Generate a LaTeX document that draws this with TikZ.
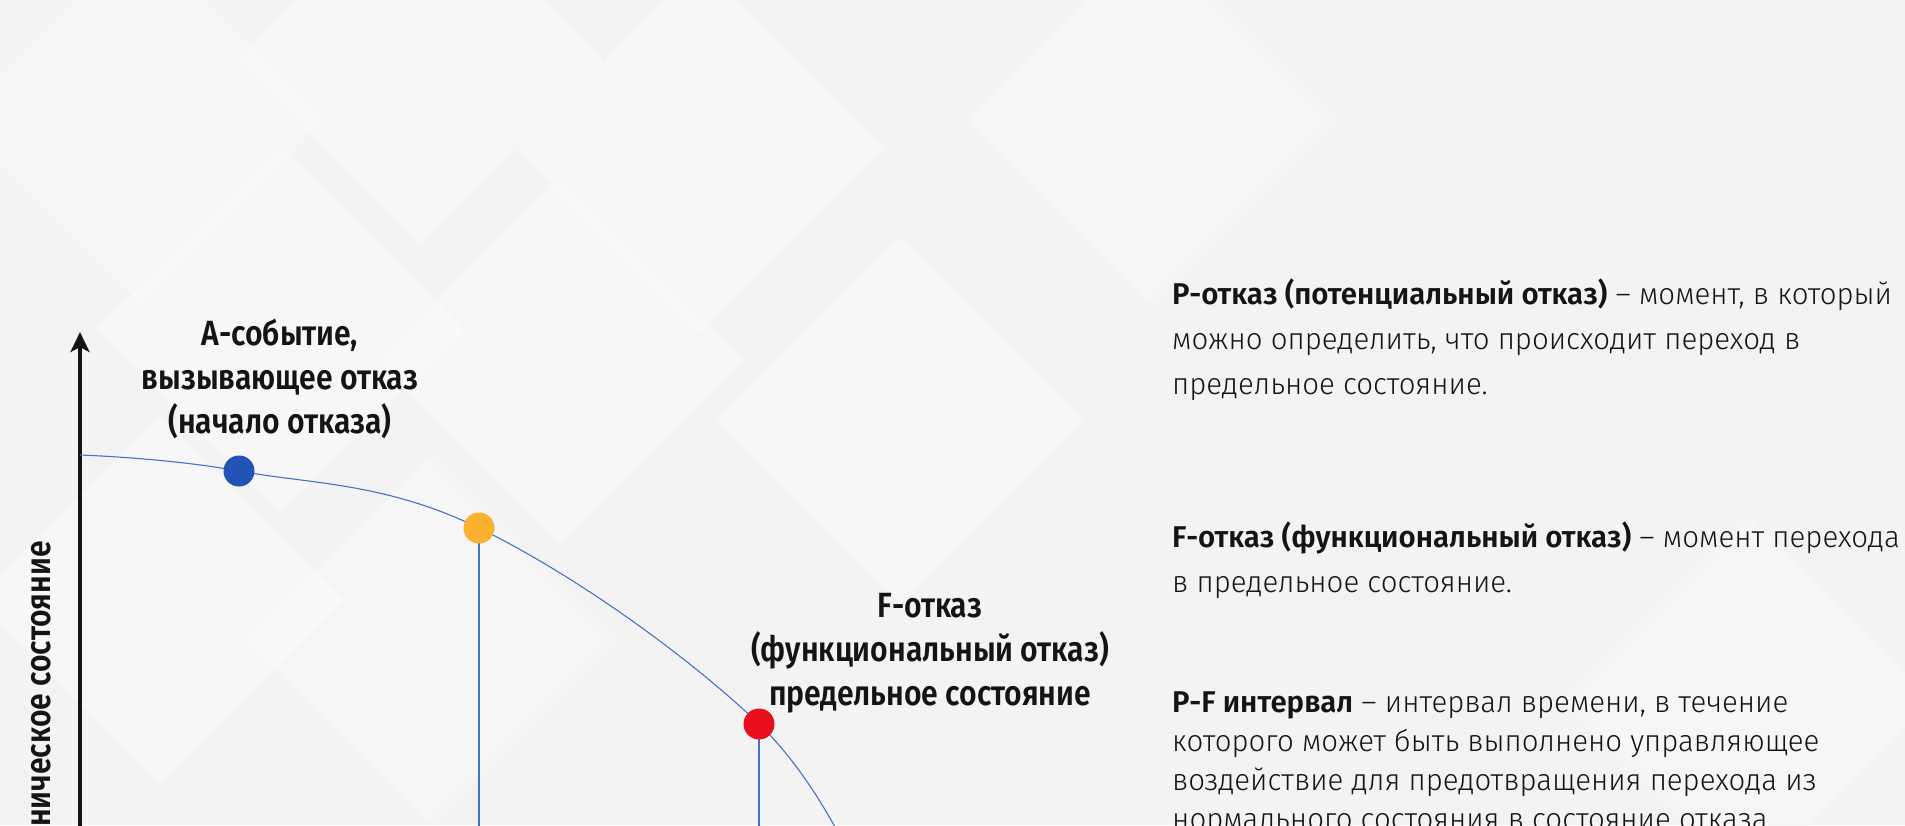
\documentclass[tikz,border=0pt]{standalone}
\usepackage{fontspec}
\setmainfont{Fira Sans}[UprightFont=* Light, BoldFont=* SemiBold, FakeStretch=0.98]
\newfontfamily\lblfont{Fira Sans}[UprightFont=* SemiBold, FakeStretch=0.86]
\usetikzlibrary{arrows.meta}
\definecolor{bgray}{HTML}{F3F3F3}
\definecolor{cline}{HTML}{4472C4}
\definecolor{ablue}{HTML}{2152B5}
\definecolor{pyellow}{HTML}{FBB12F}
\definecolor{fred}{HTML}{E8101C}
\definecolor{vblack}{HTML}{141414}
\tikzset{
  dot/.style={circle,inner sep=0pt,minimum size=31pt},
  curve/.style={draw=cline,line width=1.1pt},
  lbl/.style={font={\fontsize{35}{44}\lblfont},text=vblack,anchor=base,inner sep=0pt},
  txt/.style={font=\fontsize{30}{45}\selectfont,text=vblack,anchor=base west,inner sep=0pt},
}
\begin{document}
\begin{tikzpicture}[x=1pt,y=-1pt]
\useasboundingbox (0,0) rectangle (1905,825);
\clip (0,0) rectangle (1905,825);
\fill[bgray] (0,0) rectangle (1905,825);
% background diamonds
\foreach \cx/\cy/\op in {140/120/0.4, 420/60/0.35, 700/150/0.4, 280/330/0.35, 560/360/0.3,
  160/600/0.35, 430/640/0.3, 900/420/0.3, 1150/120/0.25, 1750/700/0.25}
  \fill[white,opacity=\op,rotate around={45:(\cx,\cy)}] (\cx-130,\cy-130) rectangle (\cx+130,\cy+130);

% axis
\coordinate (orig) at (80,860);
\coordinate (ytop) at (80,332);
\draw[line width=4pt,vblack,-{Stealth[length=20pt,width=19pt,inset=5pt]}] (orig) -- (ytop);

% state curve
\coordinate (c0) at (80,455);
\coordinate (pa) at (239,471);
\coordinate (pp) at (479,528);
\coordinate (pf) at (759,724);
\coordinate (cend) at (872,905);
\coordinate (bot) at (0,860);
\draw[curve] plot[smooth,tension=0.65] coordinates {(c0) (pa) (pp) (pf) (cend)};
\draw[curve] (pp) -- (pp |- bot);
\draw[curve] (pf) -- (pf |- bot);

\node[dot,fill=ablue] (aev) at (pa) {};
\node[dot,fill=pyellow] (pfail) at (pp) {};
\node[dot,fill=fred] (ffail) at (pf) {};

% labels
\node[lbl] (alabel) at (280,345) {\begin{tabular}[t]{@{}c@{}}А-событие,\\вызывающее отказ\\(начало отказа)\end{tabular}};
\node[lbl] (flabel) at (930,617) {\begin{tabular}[t]{@{}c@{}}F-отказ\\(функциональный отказ)\\предельное состояние\end{tabular}};
\node[lbl,rotate=90,anchor=base east] (ylabel) at (50,541) {Техническое состояние};

% definitions
\node[txt] (ptext) at (1172,304) {\begin{tabular}[t]{@{}l@{}}\textbf{P-отказ (потенциальный отказ)} – момент, в который\\можно определить, что происходит переход в\\предельное состояние.\end{tabular}};
\node[txt] (ftext) at (1172,547) {\begin{tabular}[t]{@{}l@{}}\textbf{F-отказ (функциональный отказ)} – момент перехода\\в предельное состояние.\end{tabular}};
\node[txt,font=\fontsize{30}{39}\selectfont] (pftext) at (1172,712) {\begin{tabular}[t]{@{}l@{}}\textbf{P-F интервал} – интервал времени, в течение\\которого может быть выполнено управляющее\\воздействие для предотвращения перехода из\\нормального состояния в состояние отказа.\end{tabular}};
\end{tikzpicture}
\end{document}
